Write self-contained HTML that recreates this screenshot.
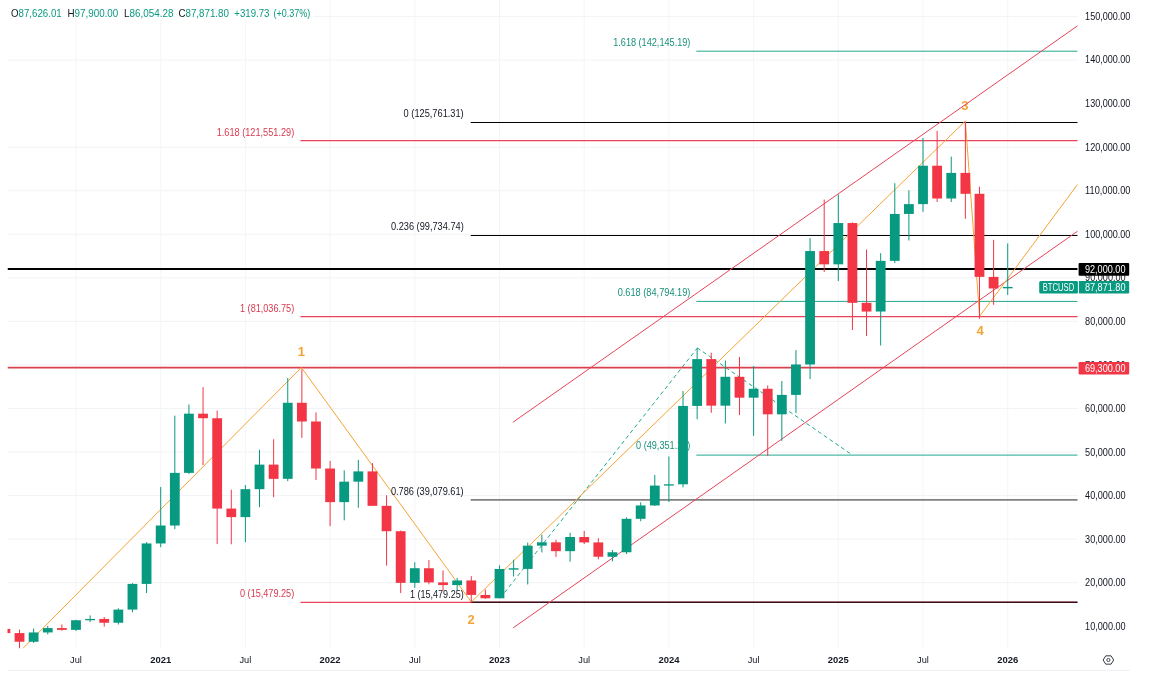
<!DOCTYPE html>
<html><head><meta charset="utf-8"><title>BTCUSD</title>
<style>html,body{margin:0;padding:0;background:#fff;}body{width:1166px;height:687px;overflow:hidden;position:relative;}svg{position:absolute;left:0;top:0;display:block;will-change:transform;}text{font-family:"Liberation Sans",Arial,sans-serif;}</style></head><body>
<svg width="1166" height="687" viewBox="0 0 1166 687">
<defs><clipPath id="pane"><rect x="7.5" y="0" width="1070.2" height="648.3"/></clipPath><clipPath id="axis"><rect x="1078" y="0" width="52" height="687"/></clipPath></defs>
<rect x="0" y="0" width="1166" height="687" fill="#fff"/>
<g stroke="#f1f3f6" stroke-width="1" fill="none">
<line x1="7.5" y1="582.59" x2="1077.7" y2="582.59"/>
<line x1="7.5" y1="539.06" x2="1077.7" y2="539.06"/>
<line x1="7.5" y1="495.52" x2="1077.7" y2="495.52"/>
<line x1="7.5" y1="451.98" x2="1077.7" y2="451.98"/>
<line x1="7.5" y1="408.44" x2="1077.7" y2="408.44"/>
<line x1="7.5" y1="364.9" x2="1077.7" y2="364.9"/>
<line x1="7.5" y1="321.37" x2="1077.7" y2="321.37"/>
<line x1="7.5" y1="277.83" x2="1077.7" y2="277.83"/>
<line x1="7.5" y1="234.29" x2="1077.7" y2="234.29"/>
<line x1="7.5" y1="190.75" x2="1077.7" y2="190.75"/>
<line x1="7.5" y1="147.21" x2="1077.7" y2="147.21"/>
<line x1="7.5" y1="60.14" x2="1077.7" y2="60.14"/>
<line x1="7.5" y1="16.6" x2="1077.7" y2="16.6"/>
<line x1="75.99" y1="0" x2="75.99" y2="648.3" stroke="#f4f5f7"/>
<line x1="160.69" y1="0" x2="160.69" y2="648.3" stroke="#f4f5f7"/>
<line x1="245.39" y1="0" x2="245.39" y2="648.3" stroke="#f4f5f7"/>
<line x1="330.1" y1="0" x2="330.1" y2="648.3" stroke="#f4f5f7"/>
<line x1="414.8" y1="0" x2="414.8" y2="648.3" stroke="#f4f5f7"/>
<line x1="499.5" y1="0" x2="499.5" y2="648.3" stroke="#f4f5f7"/>
<line x1="584.2" y1="0" x2="584.2" y2="648.3" stroke="#f4f5f7"/>
<line x1="668.9" y1="0" x2="668.9" y2="648.3" stroke="#f4f5f7"/>
<line x1="753.61" y1="0" x2="753.61" y2="648.3" stroke="#f4f5f7"/>
<line x1="838.31" y1="0" x2="838.31" y2="648.3" stroke="#f4f5f7"/>
<line x1="923.01" y1="0" x2="923.01" y2="648.3" stroke="#f4f5f7"/>
<line x1="1007.71" y1="0" x2="1007.71" y2="648.3" stroke="#f4f5f7"/>
</g>
<g clip-path="url(#pane)" fill="none">
<line x1="696.3" y1="51.2" x2="1077.7" y2="51.2" stroke="#22a88f" stroke-width="1"/>
<line x1="696.3" y1="301.4" x2="1077.7" y2="301.4" stroke="#22a88f" stroke-width="1"/>
<line x1="696.3" y1="455.1" x2="1077.7" y2="455.1" stroke="#22a88f" stroke-width="1"/>
<line x1="500.3" y1="598" x2="697.1" y2="348.3" stroke="#22a88f" stroke-width="1" stroke-dasharray="4 3"/>
<line x1="697.1" y1="347.8" x2="852.4" y2="455.1" stroke="#22a88f" stroke-width="1" stroke-dasharray="4 3"/>
<line x1="300.5" y1="140.6" x2="1077.7" y2="140.6" stroke="#e8435a" stroke-width="1.3"/>
<line x1="300.5" y1="316.7" x2="1077.7" y2="316.7" stroke="#e8435a" stroke-width="1.3"/>
<line x1="300.5" y1="602.3" x2="1077.7" y2="602.3" stroke="#e8435a" stroke-width="1.3"/>
<line x1="470.7" y1="122.5" x2="1077.7" y2="122.5" stroke="#000" stroke-width="1.1"/>
<line x1="470.7" y1="235.5" x2="1077.7" y2="235.5" stroke="#000" stroke-width="1.1"/>
<line x1="470.7" y1="499.8" x2="1077.7" y2="499.8" stroke="#808080" stroke-width="1.8"/>
<line x1="470.7" y1="602.3" x2="1077.7" y2="602.3" stroke="#3a1018" stroke-width="1.4"/>
<line x1="7.5" y1="269" x2="1077.7" y2="269" stroke="#000" stroke-width="2.1"/>
<line x1="7.5" y1="367.7" x2="1077.7" y2="367.7" stroke="#d9414f" stroke-width="1.7"/>
<text x="301.4" y="356.1" fill="#f5a335" font-size="13" font-weight="bold" text-anchor="middle">1</text>
<text x="471" y="623.9" fill="#f5a335" font-size="13" font-weight="bold" text-anchor="middle">2</text>
<text x="964.9" y="109.7" fill="#f5a335" font-size="13" font-weight="bold" text-anchor="middle">3</text>
<text x="980" y="335.1" fill="#f5a335" font-size="13" font-weight="bold" text-anchor="middle">4</text>
<line x1="512.9" y1="422.3" x2="1077.7" y2="25.7" stroke="#e8435a" stroke-width="1"/>
<line x1="513.1" y1="627.9" x2="1077.7" y2="231.1" stroke="#e8435a" stroke-width="1"/>
<polyline points="18.9,652.5 301.4,367.5 471.3,602 965.4,121 979.6,316.3" stroke="#f5a335" stroke-width="1" stroke-linejoin="miter"/>
<line x1="979.6" y1="316.3" x2="1077.7" y2="184.3" stroke="#f5a335" stroke-width="1"/>
</g>
<text x="613.2" y="46.1" fill="#16907a" font-size="10.3" textLength="77.2" lengthAdjust="spacingAndGlyphs">1.618 (142,145.19)</text>
<text x="617.7" y="296" fill="#16907a" font-size="10.3" textLength="72.7" lengthAdjust="spacingAndGlyphs">0.618 (84,794.19)</text>
<text x="636" y="449.2" fill="#16907a" font-size="10.3" textLength="54.4" lengthAdjust="spacingAndGlyphs">0 (49,351.27)</text>
<text x="403.6" y="117.1" fill="#131722" font-size="10.3" textLength="60.1" lengthAdjust="spacingAndGlyphs">0 (125,761.31)</text>
<text x="391" y="229.6" fill="#131722" font-size="10.3" textLength="72.7" lengthAdjust="spacingAndGlyphs">0.236 (99,734.74)</text>
<text x="390.9" y="495.2" fill="#131722" font-size="10.3" textLength="72.8" lengthAdjust="spacingAndGlyphs">0.786 (39,079.61)</text>
<text x="410" y="597.8" fill="#131722" font-size="10.3" textLength="53.7" lengthAdjust="spacingAndGlyphs">1 (15,479.25)</text>
<text x="216.7" y="135.6" fill="#d8384f" font-size="10.3" textLength="77.5" lengthAdjust="spacingAndGlyphs">1.618 (121,551.29)</text>
<text x="240" y="311.7" fill="#d8384f" font-size="10.3" textLength="54.2" lengthAdjust="spacingAndGlyphs">1 (81,036.75)</text>
<text x="240" y="597.4" fill="#d8384f" font-size="10.3" textLength="54.2" lengthAdjust="spacingAndGlyphs">0 (15,479.25)</text>
<g clip-path="url(#pane)">
<rect x="4.9" y="623.96" width="1" height="8.93" fill="#f23645"/>
<rect x="0.5" y="628.96" width="9.8" height="4.14" fill="#f23645"/>
<rect x="19.02" y="629.66" width="1" height="23.25" fill="#f23645"/>
<rect x="14.62" y="633.1" width="9.8" height="8.66" fill="#f23645"/>
<rect x="33.14" y="628.48" width="1" height="14.41" fill="#089981"/>
<rect x="28.74" y="632.45" width="9.8" height="9.32" fill="#089981"/>
<rect x="47.26" y="625.78" width="1" height="8.62" fill="#089981"/>
<rect x="42.86" y="628.09" width="9.8" height="4.35" fill="#089981"/>
<rect x="61.37" y="624.48" width="1" height="6.31" fill="#f23645"/>
<rect x="56.97" y="628.09" width="9.8" height="1.79" fill="#f23645"/>
<rect x="75.49" y="619.86" width="1" height="11.06" fill="#089981"/>
<rect x="71.09" y="620.25" width="9.8" height="9.62" fill="#089981"/>
<rect x="89.61" y="615.38" width="1" height="6.62" fill="#089981"/>
<rect x="85.21" y="618.95" width="9.8" height="1.31" fill="#089981"/>
<rect x="103.72" y="617.03" width="1" height="9.62" fill="#f23645"/>
<rect x="99.32" y="618.95" width="9.8" height="3.79" fill="#f23645"/>
<rect x="117.84" y="608.28" width="1" height="16.2" fill="#089981"/>
<rect x="113.44" y="609.59" width="9.8" height="13.15" fill="#089981"/>
<rect x="131.96" y="583.12" width="1" height="29.08" fill="#089981"/>
<rect x="127.56" y="583.9" width="9.8" height="25.69" fill="#089981"/>
<rect x="146.07" y="542.1" width="1" height="50.94" fill="#089981"/>
<rect x="141.67" y="543.45" width="9.8" height="40.45" fill="#089981"/>
<rect x="160.19" y="487.03" width="1" height="60.17" fill="#089981"/>
<rect x="155.79" y="525.52" width="9.8" height="17.94" fill="#089981"/>
<rect x="174.31" y="415.63" width="1" height="113.42" fill="#089981"/>
<rect x="169.91" y="472.88" width="9.8" height="52.64" fill="#089981"/>
<rect x="188.43" y="404.52" width="1" height="69.44" fill="#089981"/>
<rect x="184.03" y="413.67" width="9.8" height="59.21" fill="#089981"/>
<rect x="202.54" y="387.11" width="1" height="77.93" fill="#f23645"/>
<rect x="198.14" y="413.67" width="9.8" height="4.57" fill="#f23645"/>
<rect x="216.66" y="410.62" width="1" height="133.49" fill="#f23645"/>
<rect x="212.26" y="418.24" width="9.8" height="90.34" fill="#f23645"/>
<rect x="230.78" y="489.73" width="1" height="54.55" fill="#f23645"/>
<rect x="226.38" y="508.58" width="9.8" height="8.53" fill="#f23645"/>
<rect x="244.89" y="485.07" width="1" height="57.12" fill="#089981"/>
<rect x="240.49" y="489.16" width="9.8" height="27.95" fill="#089981"/>
<rect x="259.01" y="449.8" width="1" height="57.34" fill="#089981"/>
<rect x="254.61" y="464.61" width="9.8" height="24.56" fill="#089981"/>
<rect x="273.13" y="439.27" width="1" height="57.99" fill="#f23645"/>
<rect x="268.73" y="464.61" width="9.8" height="14.24" fill="#f23645"/>
<rect x="287.25" y="377.97" width="1" height="103.19" fill="#089981"/>
<rect x="282.85" y="402.78" width="9.8" height="76.06" fill="#089981"/>
<rect x="301.36" y="369.26" width="1" height="68.57" fill="#f23645"/>
<rect x="296.96" y="402.78" width="9.8" height="18.72" fill="#f23645"/>
<rect x="315.48" y="412.36" width="1" height="67.61" fill="#f23645"/>
<rect x="311.08" y="421.5" width="9.8" height="47.02" fill="#f23645"/>
<rect x="329.6" y="460.91" width="1" height="65.31" fill="#f23645"/>
<rect x="325.2" y="468.52" width="9.8" height="33.61" fill="#f23645"/>
<rect x="343.71" y="470.27" width="1" height="50.07" fill="#089981"/>
<rect x="339.31" y="481.67" width="9.8" height="20.46" fill="#089981"/>
<rect x="357.83" y="459.82" width="1" height="47.89" fill="#089981"/>
<rect x="353.43" y="471.4" width="9.8" height="10.27" fill="#089981"/>
<rect x="371.95" y="463.08" width="1" height="42.45" fill="#f23645"/>
<rect x="367.55" y="471.4" width="9.8" height="34.44" fill="#f23645"/>
<rect x="386.06" y="495.3" width="1" height="70.31" fill="#f23645"/>
<rect x="381.66" y="505.84" width="9.8" height="25.38" fill="#f23645"/>
<rect x="400.18" y="530.57" width="1" height="62.48" fill="#f23645"/>
<rect x="395.78" y="531.22" width="9.8" height="51.64" fill="#f23645"/>
<rect x="414.3" y="562.26" width="1" height="25.64" fill="#089981"/>
<rect x="409.9" y="568.23" width="9.8" height="14.63" fill="#089981"/>
<rect x="428.41" y="559.95" width="1" height="24.38" fill="#f23645"/>
<rect x="424.01" y="568.23" width="9.8" height="14.15" fill="#f23645"/>
<rect x="442.53" y="570.4" width="1" height="20.25" fill="#f23645"/>
<rect x="438.13" y="582.38" width="9.8" height="2.7" fill="#f23645"/>
<rect x="456.65" y="577.85" width="1" height="12.58" fill="#089981"/>
<rect x="452.25" y="580.46" width="9.8" height="4.62" fill="#089981"/>
<rect x="470.77" y="576.15" width="1" height="26.13" fill="#f23645"/>
<rect x="466.37" y="580.46" width="9.8" height="14.45" fill="#f23645"/>
<rect x="484.88" y="589.56" width="1" height="9.32" fill="#f23645"/>
<rect x="480.48" y="594.92" width="9.8" height="3.35" fill="#f23645"/>
<rect x="499" y="565.35" width="1" height="33" fill="#089981"/>
<rect x="494.6" y="568.97" width="9.8" height="29.3" fill="#089981"/>
<rect x="513.12" y="559.74" width="1" height="16.76" fill="#089981"/>
<rect x="508.72" y="568.24" width="9.8" height="1.4" fill="#089981"/>
<rect x="527.23" y="542.58" width="1" height="41.88" fill="#089981"/>
<rect x="522.83" y="545.67" width="9.8" height="23.25" fill="#089981"/>
<rect x="541.35" y="534.7" width="1" height="17.68" fill="#089981"/>
<rect x="536.95" y="542.32" width="9.8" height="3.35" fill="#089981"/>
<rect x="555.47" y="539.84" width="1" height="17.15" fill="#f23645"/>
<rect x="551.07" y="542.32" width="9.8" height="8.84" fill="#f23645"/>
<rect x="569.59" y="532.83" width="1" height="28.87" fill="#089981"/>
<rect x="565.19" y="537.01" width="9.8" height="14.15" fill="#089981"/>
<rect x="583.7" y="530.96" width="1" height="13.06" fill="#f23645"/>
<rect x="579.3" y="537.01" width="9.8" height="5.4" fill="#f23645"/>
<rect x="597.82" y="538.19" width="1" height="21.2" fill="#f23645"/>
<rect x="593.42" y="542.41" width="9.8" height="14.32" fill="#f23645"/>
<rect x="611.94" y="549.98" width="1" height="11.28" fill="#089981"/>
<rect x="607.54" y="552.25" width="9.8" height="4.48" fill="#089981"/>
<rect x="626.05" y="517.29" width="1" height="36.79" fill="#089981"/>
<rect x="621.65" y="518.81" width="9.8" height="33.44" fill="#089981"/>
<rect x="640.17" y="502.27" width="1" height="18.94" fill="#089981"/>
<rect x="635.77" y="505.44" width="9.8" height="13.37" fill="#089981"/>
<rect x="654.29" y="474.92" width="1" height="31.04" fill="#089981"/>
<rect x="649.89" y="485.59" width="9.8" height="19.85" fill="#089981"/>
<rect x="668.4" y="456.46" width="1" height="45.58" fill="#089981"/>
<rect x="664" y="484.29" width="9.8" height="1.31" fill="#089981"/>
<rect x="682.52" y="391.03" width="1" height="96.31" fill="#089981"/>
<rect x="678.12" y="405.92" width="9.8" height="78.37" fill="#089981"/>
<rect x="696.64" y="348.23" width="1" height="70.97" fill="#089981"/>
<rect x="692.24" y="359.11" width="9.8" height="46.8" fill="#089981"/>
<rect x="710.75" y="352.71" width="1" height="60.08" fill="#f23645"/>
<rect x="706.36" y="359.11" width="9.8" height="46.54" fill="#f23645"/>
<rect x="724.87" y="360.55" width="1" height="62.91" fill="#089981"/>
<rect x="720.47" y="376.79" width="9.8" height="28.87" fill="#089981"/>
<rect x="738.99" y="356.94" width="1" height="58.12" fill="#f23645"/>
<rect x="734.59" y="376.79" width="9.8" height="20.9" fill="#f23645"/>
<rect x="753.11" y="366.08" width="1" height="69.7" fill="#089981"/>
<rect x="748.71" y="388.76" width="9.8" height="8.93" fill="#089981"/>
<rect x="767.22" y="385.45" width="1" height="70.36" fill="#f23645"/>
<rect x="762.82" y="388.76" width="9.8" height="25.56" fill="#f23645"/>
<rect x="781.34" y="381.06" width="1" height="59.73" fill="#089981"/>
<rect x="776.94" y="394.9" width="9.8" height="19.42" fill="#089981"/>
<rect x="795.46" y="350.1" width="1" height="63.04" fill="#089981"/>
<rect x="791.06" y="364.47" width="9.8" height="30.43" fill="#089981"/>
<rect x="809.57" y="238.03" width="1" height="141.06" fill="#089981"/>
<rect x="805.17" y="251.05" width="9.8" height="113.42" fill="#089981"/>
<rect x="823.69" y="199.59" width="1" height="72.36" fill="#f23645"/>
<rect x="819.29" y="251.05" width="9.8" height="13.28" fill="#f23645"/>
<rect x="837.81" y="194.41" width="1" height="86.68" fill="#089981"/>
<rect x="833.41" y="223.06" width="9.8" height="41.27" fill="#089981"/>
<rect x="851.92" y="222.32" width="1" height="107.71" fill="#f23645"/>
<rect x="847.52" y="223.06" width="9.8" height="79.76" fill="#f23645"/>
<rect x="866.04" y="249.53" width="1" height="86.51" fill="#f23645"/>
<rect x="861.64" y="302.82" width="9.8" height="8.71" fill="#f23645"/>
<rect x="880.16" y="253.19" width="1" height="92.26" fill="#089981"/>
<rect x="875.76" y="260.85" width="9.8" height="50.68" fill="#089981"/>
<rect x="894.28" y="183.22" width="1" height="79.81" fill="#089981"/>
<rect x="889.88" y="213.96" width="9.8" height="46.89" fill="#089981"/>
<rect x="908.39" y="190.23" width="1" height="50.29" fill="#089981"/>
<rect x="903.99" y="204.12" width="9.8" height="9.84" fill="#089981"/>
<rect x="922.51" y="137.85" width="1" height="74.01" fill="#089981"/>
<rect x="918.11" y="165.72" width="9.8" height="38.4" fill="#089981"/>
<rect x="936.63" y="130.97" width="1" height="71.01" fill="#f23645"/>
<rect x="932.23" y="165.72" width="9.8" height="32.78" fill="#f23645"/>
<rect x="950.74" y="156.62" width="1" height="45.37" fill="#089981"/>
<rect x="946.34" y="172.9" width="9.8" height="25.6" fill="#089981"/>
<rect x="964.86" y="122.13" width="1" height="96.7" fill="#f23645"/>
<rect x="960.46" y="172.9" width="9.8" height="20.9" fill="#f23645"/>
<rect x="978.98" y="186.7" width="1" height="132.05" fill="#f23645"/>
<rect x="974.58" y="193.8" width="9.8" height="83.07" fill="#f23645"/>
<rect x="993.1" y="239.82" width="1" height="64.96" fill="#f23645"/>
<rect x="988.7" y="276.87" width="9.8" height="11.62" fill="#f23645"/>
<rect x="1007.21" y="243.43" width="1" height="51.57" fill="#089981"/>
<rect x="1002.81" y="286.93" width="9.8" height="1.4" fill="#089981"/>
</g>
<rect x="7.5" y="0" width="306" height="20" fill="#fff"/>
<text x="11" y="16.6" font-size="10.8" textLength="50.7" lengthAdjust="spacingAndGlyphs"><tspan fill="#131722">O</tspan><tspan fill="#089981">87,626.01</tspan></text>
<text x="67.5" y="16.6" font-size="10.8" textLength="50.8" lengthAdjust="spacingAndGlyphs"><tspan fill="#131722">H</tspan><tspan fill="#089981">97,900.00</tspan></text>
<text x="124" y="16.6" font-size="10.8" textLength="49.4" lengthAdjust="spacingAndGlyphs"><tspan fill="#131722">L</tspan><tspan fill="#089981">86,054.28</tspan></text>
<text x="178.4" y="16.6" font-size="10.8" textLength="50.5" lengthAdjust="spacingAndGlyphs"><tspan fill="#131722">C</tspan><tspan fill="#089981">87,871.80</tspan></text>
<text x="234.3" y="16.6" font-size="10.8" textLength="35.1" lengthAdjust="spacingAndGlyphs"><tspan fill="#089981">+319.73</tspan></text>
<text x="273.5" y="16.6" font-size="10.8" textLength="36.8" lengthAdjust="spacingAndGlyphs"><tspan fill="#089981">(+0.37%)</tspan></text>
<g clip-path="url(#axis)">
<text x="1085.1" y="630.09" font-size="10.6" fill="#131722" textLength="40.6" lengthAdjust="spacingAndGlyphs">10,000.00</text>
<text x="1085.1" y="586.49" font-size="10.6" fill="#131722" textLength="40.6" lengthAdjust="spacingAndGlyphs">20,000.00</text>
<text x="1085.1" y="542.89" font-size="10.6" fill="#131722" textLength="40.6" lengthAdjust="spacingAndGlyphs">30,000.00</text>
<text x="1085.1" y="499.29" font-size="10.6" fill="#131722" textLength="40.6" lengthAdjust="spacingAndGlyphs">40,000.00</text>
<text x="1085.1" y="455.7" font-size="10.6" fill="#131722" textLength="40.6" lengthAdjust="spacingAndGlyphs">50,000.00</text>
<text x="1085.1" y="412.1" font-size="10.6" fill="#131722" textLength="40.6" lengthAdjust="spacingAndGlyphs">60,000.00</text>
<text x="1085.1" y="368.5" font-size="10.6" fill="#131722" textLength="40.6" lengthAdjust="spacingAndGlyphs">70,000.00</text>
<text x="1085.1" y="324.9" font-size="10.6" fill="#131722" textLength="40.6" lengthAdjust="spacingAndGlyphs">80,000.00</text>
<text x="1085.1" y="281.3" font-size="10.6" fill="#131722" textLength="40.6" lengthAdjust="spacingAndGlyphs">90,000.00</text>
<text x="1085.1" y="237.7" font-size="10.6" fill="#131722" textLength="45.3" lengthAdjust="spacingAndGlyphs">100,000.00</text>
<text x="1085.1" y="194.1" font-size="10.6" fill="#131722" textLength="45.3" lengthAdjust="spacingAndGlyphs">110,000.00</text>
<text x="1085.1" y="150.5" font-size="10.6" fill="#131722" textLength="45.3" lengthAdjust="spacingAndGlyphs">120,000.00</text>
<text x="1085.1" y="106.9" font-size="10.6" fill="#131722" textLength="45.3" lengthAdjust="spacingAndGlyphs">130,000.00</text>
<text x="1085.1" y="63.3" font-size="10.6" fill="#131722" textLength="45.3" lengthAdjust="spacingAndGlyphs">140,000.00</text>
<text x="1085.1" y="19.7" font-size="10.6" fill="#131722" textLength="45.3" lengthAdjust="spacingAndGlyphs">150,000.00</text>
<rect x="1078.6" y="263.1" width="50.6" height="12.6" rx="1" fill="#000"/>
<text x="1084.9" y="272.8" font-size="10.6" fill="#fff" textLength="40.6" lengthAdjust="spacingAndGlyphs">92,000.00</text>
<rect x="1078.6" y="281" width="50.6" height="12.6" rx="1" fill="#089981"/>
<text x="1084.9" y="290.7" font-size="10.6" fill="#fff" textLength="40.6" lengthAdjust="spacingAndGlyphs">87,871.80</text>
<rect x="1078.6" y="362" width="50.6" height="12.6" rx="1" fill="#f23645"/>
<text x="1084.9" y="371.7" font-size="10.6" fill="#fff" textLength="40.6" lengthAdjust="spacingAndGlyphs">69,300.00</text>
</g>
<rect x="1039.2" y="281" width="39" height="12.6" rx="1.5" fill="#089981"/>
<rect x="1077.9" y="281" width="0.9" height="12.6" fill="#fff"/>
<text x="1042.7" y="290.9" font-size="10.4" fill="#fff" textLength="31.6" lengthAdjust="spacingAndGlyphs">BTCUSD</text>
<text x="70.09" y="663.1" font-size="9.8" fill="#131722" textLength="11.8" lengthAdjust="spacingAndGlyphs">Jul</text>
<text x="150.19" y="663.1" font-size="9.8" font-weight="bold" fill="#131722" textLength="21.0" lengthAdjust="spacingAndGlyphs">2021</text>
<text x="239.49" y="663.1" font-size="9.8" fill="#131722" textLength="11.8" lengthAdjust="spacingAndGlyphs">Jul</text>
<text x="319.6" y="663.1" font-size="9.8" font-weight="bold" fill="#131722" textLength="21.0" lengthAdjust="spacingAndGlyphs">2022</text>
<text x="408.9" y="663.1" font-size="9.8" fill="#131722" textLength="11.8" lengthAdjust="spacingAndGlyphs">Jul</text>
<text x="489" y="663.1" font-size="9.8" font-weight="bold" fill="#131722" textLength="21.0" lengthAdjust="spacingAndGlyphs">2023</text>
<text x="578.3" y="663.1" font-size="9.8" fill="#131722" textLength="11.8" lengthAdjust="spacingAndGlyphs">Jul</text>
<text x="658.4" y="663.1" font-size="9.8" font-weight="bold" fill="#131722" textLength="21.0" lengthAdjust="spacingAndGlyphs">2024</text>
<text x="747.71" y="663.1" font-size="9.8" fill="#131722" textLength="11.8" lengthAdjust="spacingAndGlyphs">Jul</text>
<text x="827.81" y="663.1" font-size="9.8" font-weight="bold" fill="#131722" textLength="21.0" lengthAdjust="spacingAndGlyphs">2025</text>
<text x="917.11" y="663.1" font-size="9.8" fill="#131722" textLength="11.8" lengthAdjust="spacingAndGlyphs">Jul</text>
<text x="997.21" y="663.1" font-size="9.8" font-weight="bold" fill="#131722" textLength="21.0" lengthAdjust="spacingAndGlyphs">2026</text>
<line x1="7.5" y1="670.3" x2="1130" y2="670.3" stroke="#eceef2" stroke-width="1"/>
<polygon points="1113.7,660 1111.05,664.16 1105.75,664.16 1103.1,660 1105.75,655.84 1111.05,655.84" fill="none" stroke="#131722" stroke-width="0.85"/>
<circle cx="1108.4" cy="660" r="1.6" fill="none" stroke="#131722" stroke-width="0.75"/>
</svg></body></html>
